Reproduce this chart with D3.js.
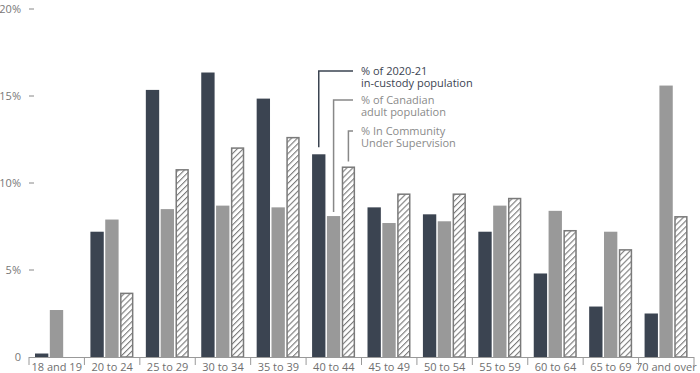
<!DOCTYPE html>
<html>
<head>
<meta charset="utf-8">
<script src="https://cdn.jsdelivr.net/npm/d3@7"></script>
<style>
  body { margin: 0; background: #fff; }
  svg { display: block; font-family: "Open Sans", sans-serif; }
</style>
</head>
<body>
<div id="chart"></div>
<script>
// Age distribution: in-custody vs Canadian adult vs community supervision

const ageGroups = ["18 and 19", "20 to 24", "25 to 29", "30 to 34", "35 to 39", "40 to 44",
    "45 to 49", "50 to 54", "55 to 59", "60 to 64", "65 to 69", "70 and over"];
const custody   = [0.2, 7.2, 15.35, 16.35, 14.85, 11.65, 8.6, 8.2, 7.2, 4.8, 2.9, 2.5];
const adultPop  = [2.7, 7.9, 8.5, 8.7, 8.6, 8.1, 7.7, 7.8, 8.7, 8.4, 7.2, 15.6];
const community = [0, 3.7, 10.8, 12.05, 12.65, 10.95, 9.4, 9.4, 9.15, 7.3, 6.2, 8.1];
const yTicks = [0, 5, 10, 15, 20];
const seriesKeys = ["custody", "adult", "community"];
const legendLines = {
    custody: ["% of 2020-21", "in-custody population"],
    adult: ["% of Canadian", "adult population"],
    community: ["% In Community", "Under Supervision"]
};

(function() {
    const W = 700, H = 373;
    const colDark = "#3b4451", colGray = "#999999", colHatch = "#7a7a7a";

    const svg = d3.select("#chart").append("svg")
        .attr("width", W)
        .attr("height", H);

    // hatch pattern
    const pat = svg.append("defs").append("pattern")
        .attr("id", "hatch")
        .attr("patternUnits", "userSpaceOnUse")
        .attr("width", 4.2)
        .attr("height", 4.2)
        .attr("patternTransform", "rotate(45)");
    pat.append("rect").attr("width", 4.2).attr("height", 4.2).attr("fill", "#fff");
    pat.append("line")
        .attr("x1", 0).attr("y1", 0).attr("x2", 0).attr("y2", 4.2)
        .attr("stroke", colHatch).attr("stroke-width", 2.2);

    const data = ageGroups.map((g, i) => ({
        group: g,
        custody: custody[i],
        adult: adultPop[i],
        community: community[i]
    }));

    const x0 = d3.scaleBand()
        .domain(ageGroups)
        .range([29, 694]);

    const x1 = d3.scaleBand()
        .domain(seriesKeys)
        .range([6, 49])
        .paddingInner(0.1);

    const y = d3.scaleLinear()
        .domain([0, 20])
        .range([357, 9]);

    // Y axis: labels + small dashes
    const yAxis = svg.append("g");
    yAxis.selectAll("text")
        .data(yTicks)
        .enter()
        .append("text")
        .attr("x", 21)
        .attr("y", d => y(d))
        .attr("dy", "0.35em")
        .attr("text-anchor", "end")
        .attr("fill", "#777")
        .attr("font-size", "11px")
        .text(d => d === 0 ? "0" : d + "%");
    yAxis.selectAll("line")
        .data(yTicks.filter(d => d > 0))
        .enter()
        .append("line")
        .attr("x1", 29).attr("x2", 34)
        .attr("y1", d => y(d)).attr("y2", d => y(d))
        .attr("stroke", "#888")
        .attr("stroke-width", 1);

    // Bars
    const groups = svg.selectAll("g.grp")
        .data(data)
        .enter()
        .append("g")
        .attr("class", "grp")
        .attr("transform", d => `translate(${x0(d.group)},0)`);

    groups.selectAll("rect")
        .data(d => seriesKeys.map(k => ({key: k, value: d[k]})).filter(d => d.value > 0))
        .enter()
        .append("rect")
        .attr("x", d => x1(d.key) + (d.key === "community" ? 0.75 : 0))
        .attr("y", d => y(d.value) + (d.key === "community" ? 0.75 : 0))
        .attr("width", d => x1.bandwidth() - (d.key === "community" ? 1.5 : 0))
        .attr("height", d => y(0) - y(d.value) - (d.key === "community" ? 0.75 : 0))
        .attr("fill", d => d.key === "custody" ? colDark : d.key === "adult" ? colGray : "url(#hatch)")
        .attr("stroke", d => d.key === "community" ? colHatch : "none")
        .attr("stroke-width", 1.5);

    // X axis
    const xAxis = d3.axisBottom(x0).tickSize(0).tickPadding(6);
    const gx = svg.append("g")
        .attr("transform", `translate(0,${y(0)})`)
        .call(xAxis);
    gx.select(".domain").attr("stroke", "#999").attr("d", `M29,0.5H694`);
    gx.selectAll("text")
        .attr("fill", "#6f6f6f")
        .attr("font-size", "11px")
        .attr("font-family", "Open Sans, sans-serif");

    // separators between categories
    gx.selectAll("line.sep")
        .data(ageGroups.concat(["end"]))
        .enter()
        .append("line")
        .attr("class", "sep")
        .attr("x1", (d, i) => i < ageGroups.length ? x0(d) : x0.range()[1])
        .attr("x2", (d, i) => i < ageGroups.length ? x0(d) : x0.range()[1])
        .attr("y1", 0).attr("y2", 8)
        .attr("stroke", "#999")
        .attr("stroke-width", 1);

    // Legend with leader lines to the "40 to 44" group
    const anchor = data[5];
    const legendX = 361, lineEnd = 353;
    const legendY = {custody: 75, adult: 104, community: 135};
    const gaps = {custody: 7, adult: 4, community: 5};
    const legColor = {custody: colDark, adult: "#8a8a8a", community: "#8a8a8a"};
    const leaderColor = {custody: colDark, adult: "#888", community: "#888"};

    seriesKeys.forEach(k => {
        const cx = x0(anchor.group) + x1(k) + x1.bandwidth() / 2;
        const ly = legendY[k] - 4;
        svg.append("path")
            .attr("d", `M${cx},${y(anchor[k]) - gaps[k]}V${ly}H${lineEnd}`)
            .attr("fill", "none")
            .attr("stroke", leaderColor[k])
            .attr("stroke-width", 1.5);
        legendLines[k].forEach((s, i) => {
            svg.append("text")
                .attr("x", legendX)
                .attr("y", legendY[k] + i * 11.5)
                .attr("fill", legColor[k])
                .attr("font-size", "11px")
                .text(s);
        });
    });
})();
</script>
</body>
</html>
